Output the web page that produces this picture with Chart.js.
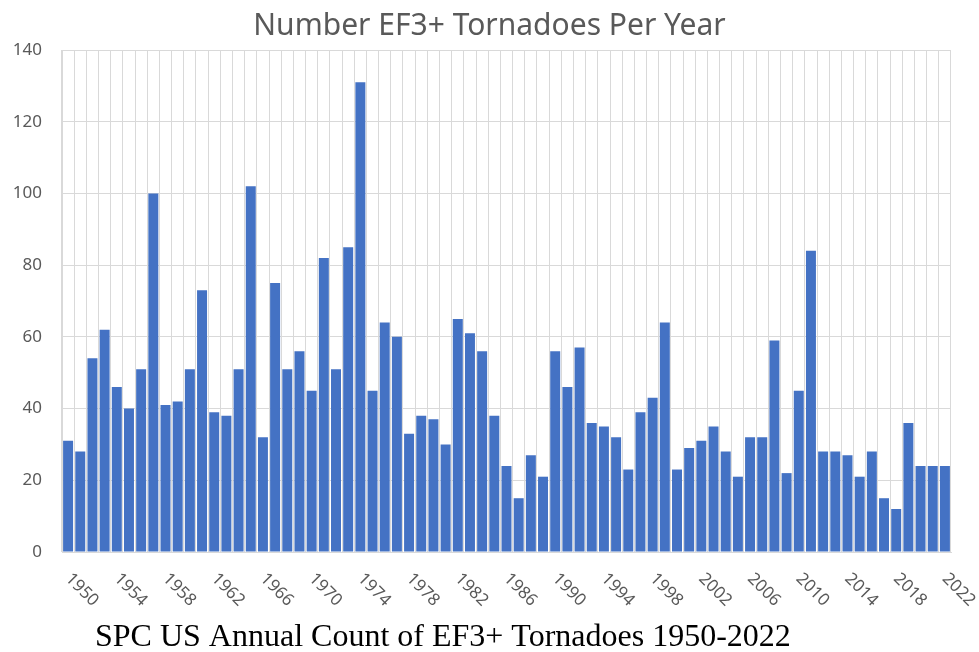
<!DOCTYPE html>
<html>
<head>
<meta charset="utf-8">
<title>Number EF3+ Tornadoes Per Year</title>
<script src="https://cdn.jsdelivr.net/npm/chart.js@4/dist/chart.umd.min.js"></script>
<style>
	html, body { margin: 0; padding: 0; background: #fff; }
	#wrap { position: relative; width: 979px; height: 652px; }
</style>
</head>
<body>
<div id="wrap"><canvas id="tornadoChart" width="979" height="652"></canvas></div>
<script>
// 연도 (1950 ~ 2022)
const years = [];
for (let y = 1950; y <= 2022; y++) years.push(String(y));

// EF3 이상 토네이도 연간 건수
const counts = [
	31, 28, 54, 62, 46, 40, 51, 100, 41, 42,
	51, 73, 39, 38, 51, 102, 32, 75, 51, 56,
	45, 82, 51, 85, 131, 45, 64, 60, 33, 38,
	37, 30, 65, 61, 56, 38, 24, 15, 27, 21,
	56, 46, 57, 36, 35, 32, 23, 39, 43, 64,
	23, 29, 31, 35, 28, 21, 32, 32, 59, 22,
	45, 84, 28, 28, 27, 21, 28, 15, 12, 36,
	24, 24, 24
];

// Y축 눈금
const yTicks = [0, 20, 40, 60, 80, 100, 120, 140];

// X축 라벨 간격 (4년)
const labelStep = 4;

const chartTitle = 'Number EF3+ Tornadoes Per Year';
const caption = 'SPC US Annual Count of EF3+ Tornadoes 1950-2022';

const textGray = '#595959';
const gridGray = '#d9d9d9';

// X축 라벨(45도 회전) + 하단 캡션
const _yearLabels = {
	id: 'yearLabels',
	afterDraw(chart) {
		const ctx = chart.ctx;
		const xs = chart.scales.x;
		ctx.save();
		ctx.font = '17px "Noto Sans", sans-serif';
		ctx.fillStyle = textGray;
		ctx.textAlign = 'left';
		ctx.textBaseline = 'middle';
		years.forEach(function(label, i) {
			if (i % labelStep !== 0) return;
			let x = xs.getPixelForValue(i);
			ctx.save();
			ctx.translate(x, xs.top + 24);
			ctx.rotate(Math.PI / 4);
			ctx.fillText(label, 0, 0);
			ctx.restore();
		});

		ctx.font = '32px "Liberation Serif", "Times New Roman", serif';
		ctx.fillStyle = '#000';
		ctx.textBaseline = 'alphabetic';
		ctx.fillText(caption, 95, 646);
		ctx.restore();
	}
};

new Chart(document.getElementById('tornadoChart'), {
	type: 'bar',
	data: {
		labels: years,
		datasets: [{
			label: 'EF3+',
			data: counts,
			backgroundColor: '#4472c4',
			borderWidth: 0,
			categoryPercentage: 1.0,
			barPercentage: 0.82
		}]
	},
	options: {
		responsive: false,
		animation: false,
		layout: { padding: 0 },
		plugins: {
			legend: { display: false },
			tooltip: { enabled: false },
			title: {
				display: true,
				text: chartTitle,
				color: textGray,
				font: { family: '"Noto Sans", sans-serif', size: 30, weight: 'normal' },
				padding: { top: 8, bottom: 6 }
			}
		},
		scales: {
			x: {
				grid: { color: gridGray, lineWidth: 1, drawTicks: false, offset: true },
				border: { color: gridGray },
				ticks: { display: false },
				afterFit: function(scale) { scale.height = 100; }
			},
			y: {
				min: 0,
				max: 140,
				afterBuildTicks: function(scale) {
					scale.ticks = yTicks.map(function(v) { return { value: v }; });
				},
				grid: { color: gridGray, lineWidth: 1, drawTicks: false },
				border: { color: gridGray },
				ticks: {
					color: textGray,
					padding: 20,
					font: { family: '"Noto Sans", sans-serif', size: 17 }
				},
				afterFit: function(scale) { scale.width = 62; }
			},
			// 오른쪽 여백용 빈 축
			yRight: {
				position: 'right',
				min: 0,
				max: 140,
				grid: { display: false, drawTicks: false },
				border: { display: false },
				ticks: { display: false },
				afterFit: function(scale) { scale.width = 28; }
			}
		}
	},
	plugins: [_yearLabels]
});
</script>
</body>
</html>
